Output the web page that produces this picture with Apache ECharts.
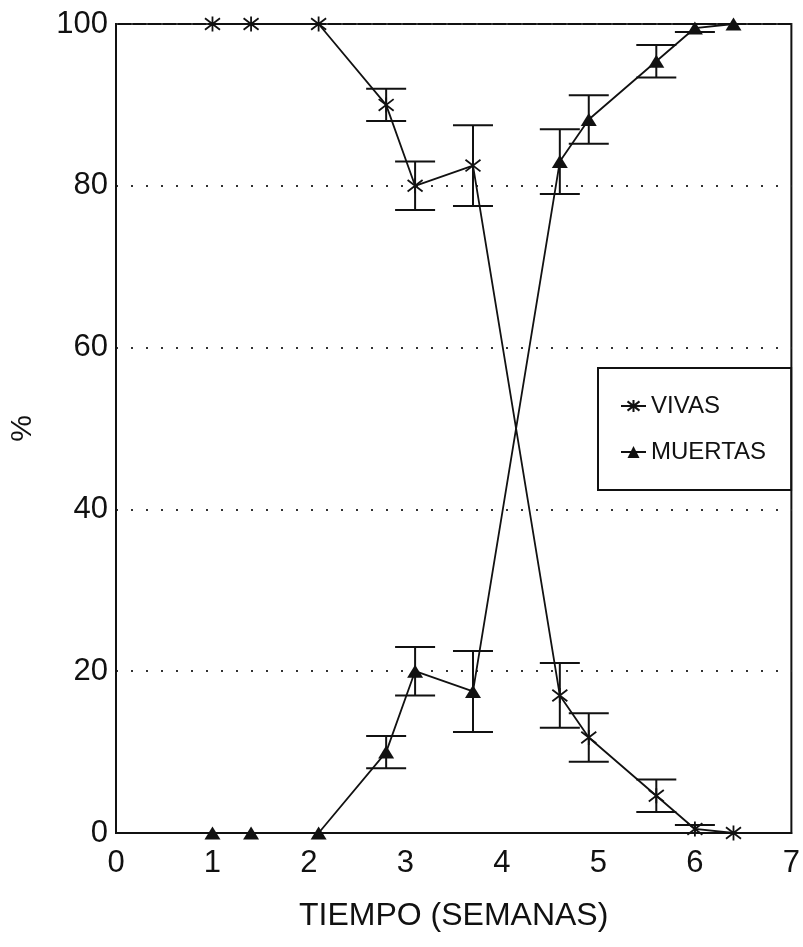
<!DOCTYPE html>
<html>
<head>
<meta charset="utf-8">
<script src="https://cdn.jsdelivr.net/npm/echarts@6/dist/echarts.min.js"></script>
<style>
html,body{margin:0;padding:0;background:#fff;}
#chart{width:803px;height:947px;}
</style>
</head>
<body>
<div id="chart"></div>
<script>
var weeks = [1, 1.4, 2.1, 2.8, 3.1, 3.7, 4.6, 4.9, 5.6, 6.0, 6.4];
var vivas = [100, 100, 100, 90, 80, 82.5, 17, 11.8, 4.6, 0.5, 0];
var muertas = [0, 0, 0, 10, 20, 17.5, 83, 88.2, 95.4, 99.5, 100];
var errVivas = [0, 0, 0, 2, 3, 5, 4, 3, 2, 0.5, 0];
var errMuertas = [0, 0, 0, 2, 3, 5, 4, 3, 2, 0.5, 0];
var xTicks = [0, 1, 2, 3, 4, 5, 6, 7];
var yTicks = [0, 20, 40, 60, 80, 100];

var asterisk = 'path://M-1,-1L1,1M1,-1L-1,1M0,-1.3L0,1.3';

function pts(ys){ return weeks.map(function(x,i){ return [x, ys[i]]; }); }
function errData(ys, es){
  var out = [];
  weeks.forEach(function(x,i){ if (es[i] > 0) out.push([x, ys[i]-es[i], ys[i]+es[i]]); });
  return out;
}
function errRender(params, api){
  var x = api.value(0), lo = api.value(1), hi = api.value(2);
  var a = api.coord([x, hi]), b = api.coord([x, lo]);
  var w = 20, st = {stroke:'#111', lineWidth:2};
  return {type:'group', children:[
    {type:'line', shape:{x1:a[0], y1:a[1], x2:b[0], y2:b[1]}, style:st},
    {type:'line', shape:{x1:a[0]-w, y1:a[1], x2:a[0]+w, y2:a[1]}, style:st},
    {type:'line', shape:{x1:b[0]-w, y1:b[1], x2:b[0]+w, y2:b[1]}, style:st}
  ]};
}

var font = 'Liberation Sans, Arial, sans-serif';
var chart = echarts.init(document.getElementById('chart'), null, {renderer:'canvas'});
chart.setOption({
  backgroundColor:'#fff',
  animation:false,
  grid:{left:116, right:10, top:24, bottom:114, show:true, borderColor:'#111', borderWidth:2, backgroundColor:'transparent'},
  legend:{
    orient:'vertical', left:598, top:368,
    padding:[26, 25, 26, 22], itemGap:22, itemWidth:25, itemHeight:15,
    borderColor:'#111', borderWidth:2, backgroundColor:'#fff',
    textStyle:{fontFamily:font, fontSize:24, color:'#111'},
    data:['VIVAS','MUERTAS']
  },
  xAxis:{
    type:'value', min:0, max:7, interval:1,
    name:'TIEMPO (SEMANAS)', nameLocation:'middle', nameGap:67,
    nameTextStyle:{fontFamily:font, fontSize:32, color:'#111'},
    axisLine:{show:true, lineStyle:{color:'#111', width:2}},
    axisTick:{show:false},
    axisLabel:{fontFamily:font, fontSize:31, color:'#111', margin:15,
      formatter:function(v){ return xTicks.indexOf(v) >= 0 ? String(v) : ''; }},
    splitLine:{show:false}
  },
  yAxis:{
    type:'value', min:0, max:100, interval:20,
    name:'%', nameLocation:'middle', nameGap:78, nameRotate:90,
    nameTextStyle:{fontFamily:font, fontSize:30, color:'#111'},
    axisLine:{show:true, lineStyle:{color:'#111', width:2}},
    axisTick:{show:false},
    axisLabel:{fontFamily:font, fontSize:31, color:'#111', margin:8,
      formatter:function(v){ return yTicks.indexOf(v) >= 0 ? String(v) : ''; }},
    splitLine:{show:true, lineStyle:{color:'#333', width:2, type:[2,13]}}
  },
  series:[
    {type:'custom', name:'errV', silent:true, z:2, renderItem:errRender, encode:{x:0, y:[1,2]}, data:errData(vivas, errVivas)},
    {type:'custom', name:'errM', silent:true, z:2, renderItem:errRender, encode:{x:0, y:[1,2]}, data:errData(muertas, errMuertas)},
    {type:'line', name:'VIVAS', z:3, data:pts(vivas), symbol:asterisk, symbolSize:15,
      itemStyle:{color:'#111', borderColor:'#111', borderWidth:1.8},
      lineStyle:{color:'#111', width:1.8}},
    {type:'line', name:'MUERTAS', z:3, data:pts(muertas), symbol:'triangle', symbolSize:[16,13],
      itemStyle:{color:'#111'},
      lineStyle:{color:'#111', width:1.8}}
  ]
});
</script>
</body>
</html>
